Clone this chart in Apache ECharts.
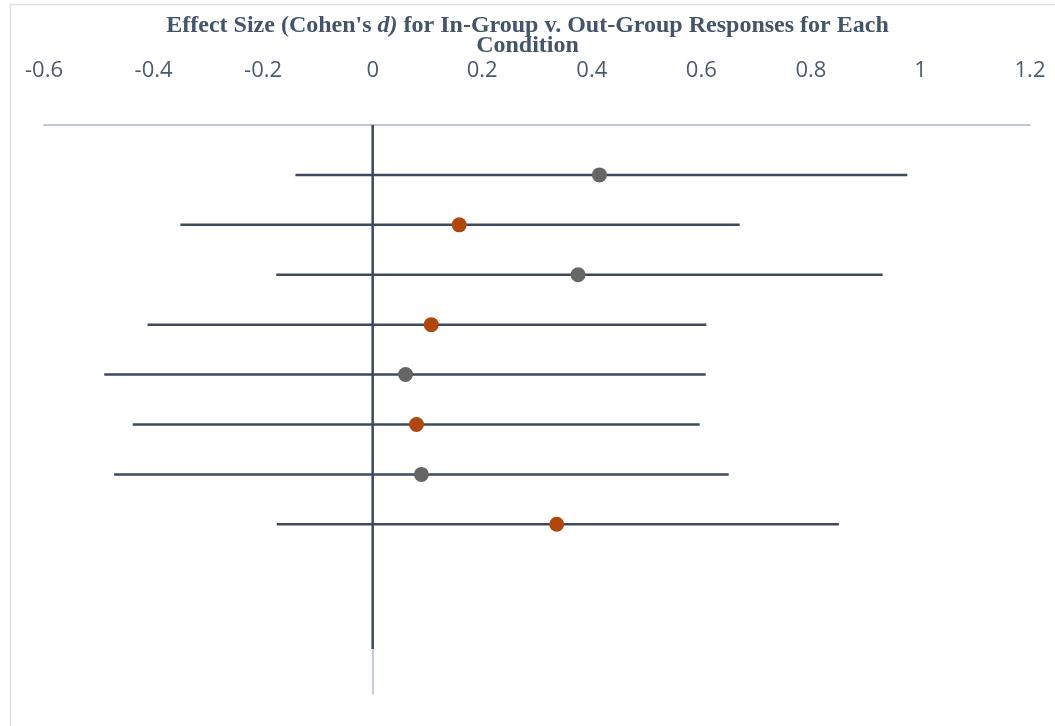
<!DOCTYPE html>
<html>
<head>
<meta charset="utf-8">
<script src="https://cdn.jsdelivr.net/npm/echarts@6/dist/echarts.min.js"></script>
<style>
  html, body { margin: 0; padding: 0; background: #fff; }
  #forest_chart { width: 1055px; height: 726px; }
</style>
</head>
<body>
<div id="forest_chart"></div>
<script>
// row position of each condition (1 = top)
var rows = [1, 2, 3, 4, 5, 6, 7, 8];
// Cohen's d and its confidence interval, per row
var effect = [0.414, 0.158, 0.375, 0.107, 0.060, 0.080, 0.089, 0.336];
var lower  = [-0.141, -0.351, -0.176, -0.411, -0.490, -0.438, -0.472, -0.175];
var upper  = [0.976, 0.670, 0.931, 0.609, 0.608, 0.597, 0.650, 0.851];
// which marker colour each row uses (0 = grey, 1 = orange)
var group  = [0, 1, 0, 1, 0, 1, 0, 1];
// vertical reference line at d = 0
var zeroLine = [[0, 0], [0, 10.5]];
var xTicks = { min: -0.6, max: 1.2, interval: 0.2 };

var axisColor = '#3E4A5C';
var greyPts = [], orangePts = [], bars = [];
for (var i = 0; i < rows.length; i++) {
    bars.push([lower[i], upper[i], rows[i]]);
    if (group[i] === 0) greyPts.push([effect[i], rows[i]]);
    else orangePts.push([effect[i], rows[i]]);
}

var chart = echarts.init(document.getElementById('forest_chart'));
var option = {
    animation: false,
    title: {
        left: 'center',
        top: 16,
        padding: 0,
        text: '{b|Effect Size (Cohen\'s }{i|d)}{b| for In-Group v. Out-Group Responses for Each}\n{b|Condition}',
        textStyle: {
            rich: {
                b: { fontFamily: 'Liberation Serif', fontWeight: 'bold', fontSize: 24, color: '#44546A', lineHeight: 20 },
                i: { fontFamily: 'Liberation Serif', fontWeight: 'bold', fontStyle: 'italic', fontSize: 24, color: '#44546A', lineHeight: 20 }
            }
        }
    },
    graphic: [{
        type: 'rect',
        left: 8, top: 2,
        shape: { width: 1100, height: 800 },
        style: { fill: 'none', stroke: '#DCE0E6', lineWidth: 1.5 },
        silent: true
    }],
    grid: { left: 44, right: 25, top: 125, bottom: 32 },
    xAxis: {
        type: 'value',
        position: 'top',
        min: xTicks.min, max: xTicks.max, interval: xTicks.interval,
        axisLine: { onZero: false, lineStyle: { color: '#BFC7D5', width: 2 } },
        axisTick: { show: false },
        splitLine: { show: false },
        axisLabel: { color: '#4D5A6E', fontSize: 22, fontFamily: 'Open Sans', margin: 43 }
    },
    yAxis: {
        type: 'value',
        inverse: true,
        min: 0, max: 11.4,
        axisLine: { show: true, onZero: true, lineStyle: { color: '#C5CEDD', width: 2 } },
        axisTick: { show: false },
        axisLabel: { show: false },
        splitLine: { show: false }
    },
    series: [
        {
            type: 'line',
            data: zeroLine,
            symbol: 'none',
            lineStyle: { color: axisColor, width: 2.5 },
            z: 3
        },
        {
            type: 'custom',
            data: bars,
            renderItem: function (params, api) {
                var a = api.coord([api.value(0), api.value(2)]);
                var b = api.coord([api.value(1), api.value(2)]);
                return {
                    type: 'line',
                    shape: { x1: a[0], y1: a[1], x2: b[0], y2: b[1] },
                    style: { stroke: axisColor, lineWidth: 2.5 }
                };
            },
            encode: { x: [0, 1], y: 2 },
            z: 4
        },
        {
            type: 'scatter',
            data: greyPts,
            symbolSize: 15,
            itemStyle: { color: '#666666', opacity: 1 },
            z: 5
        },
        {
            type: 'scatter',
            data: orangePts,
            symbolSize: 15,
            itemStyle: { color: '#B0470C', opacity: 1 },
            z: 5
        }
    ]
};
chart.setOption(option);
</script>
</body>
</html>
